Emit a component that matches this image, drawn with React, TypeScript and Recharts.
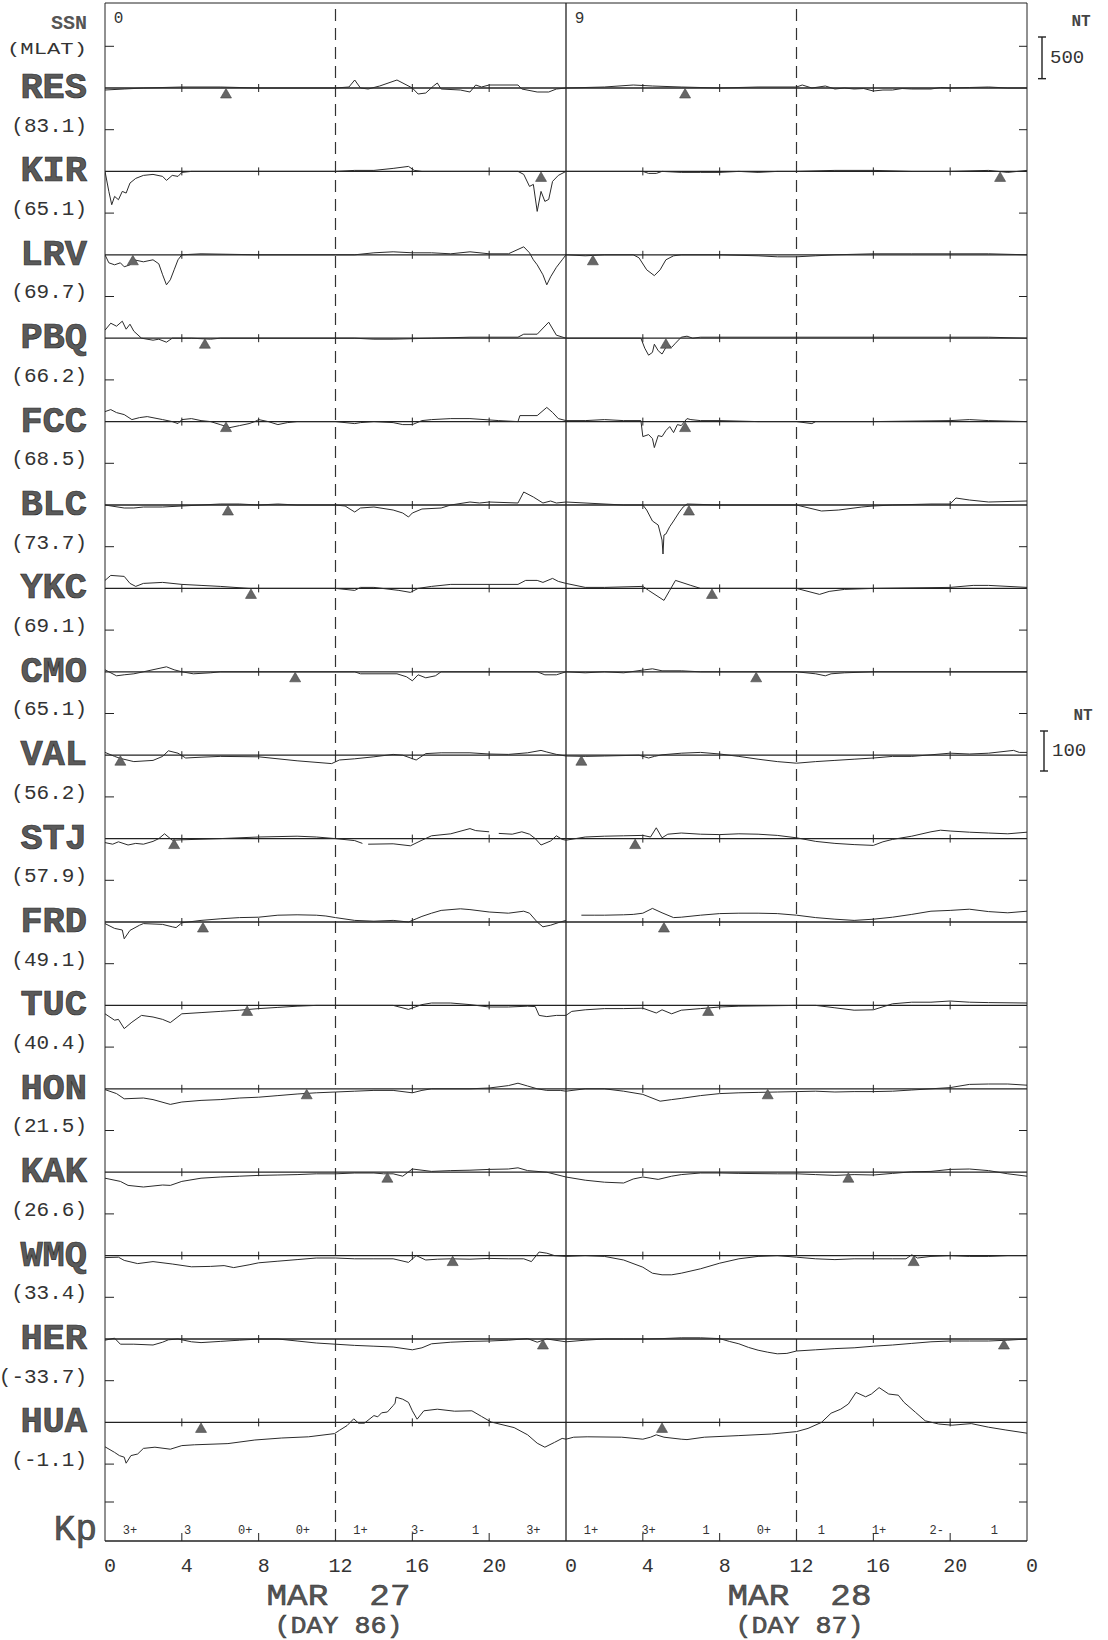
import React from "react";
import { ComposedChart, Line, XAxis, YAxis, ReferenceLine, ReferenceDot } from "recharts";

document.body.style.margin = "0";

// ── Data ─────────────────────────────────────────────────────────────────────

type Pt = [number, number | null]; // [hour UT since Mar 27 00h, deviation nT]

const STATIONS = ["RES", "KIR", "LRV", "PBQ", "FCC", "BLC", "YKC", "CMO", "VAL", "STJ", "FRD", "TUC", "HON", "KAK", "WMQ", "HER", "HUA"];
const MLAT = ["83.1", "65.1", "69.7", "66.2", "68.5", "73.7", "69.1", "65.1", "56.2", "57.9", "49.1", "40.4", "21.5", "26.6", "33.4", "-33.7", "-1.1"];
const HIGH_LAT_COUNT = 8; // first 8 stations drawn at the 500 nT scale, rest at 100 nT

const RES: Pt[] = [[0,-24],[1,-12],[2,0],[4,12],[6,12],[8,0],[12,0],[12.7,12],[13,96],[13.3,0],[13.7,-12],[14.3,24],[15.2,96],[16,0],[16.3,-72],[16.7,-60],[17.1,24],[17.3,60],[17.5,-12],[18.5,-24],[19,-48],[19.3,36],[19.6,12],[20,36],[21.5,36],[21.7,-12],[22.5,-48],[23.1,-48],[23.5,-12],[24,0],[26,12],[27.5,36],[28.5,24],[30,12],[32,0],[34,12],[36,12],[36.3,36],[36.8,0],[37.5,24],[38,-12],[38.5,0],[39,-12],[39.5,-6],[40,-36],[40.5,-24],[41,-24],[41.5,-6],[42,-12],[43,-12],[43.5,6],[44,0],[45,6],[46,12],[47,0],[48,0]];
const KIR: Pt[] = [[0,0],[0.2,-240],[0.35,-400],[0.5,-300],[0.7,-340],[0.9,-240],[1.1,-260],[1.3,-140],[1.6,-84],[2,-48],[2.5,-36],[3,-60],[3.2,-108],[3.5,-48],[3.8,-60],[4,-12],[4.5,0],[8,0],[12,0],[13,12],[14,12],[15,36],[15.8,60],[16.1,12],[16.5,0],[18,0],[21.5,0],[21.8,-36],[22.1,-180],[22.3,-156],[22.5,-480],[22.7,-240],[22.9,-360],[23.1,-336],[23.3,-120],[23.6,-48],[24,0],[28,0],[28.3,-24],[28.7,-24],[29,0],[30,-12],[31,-12],[32,-12],[33,0],[34,-12],[35,0],[36,0],[38,12],[40,12],[42,0],[44,0],[46,12],[47,-12],[48,12]];
const LRV: Pt[] = [[0,0],[0.2,-96],[0.5,-120],[0.8,-96],[1,-144],[1.3,-120],[1.5,-60],[2,-84],[2.5,-60],[2.8,-108],[3,-240],[3.2,-360],[3.4,-300],[3.6,-180],[3.8,-60],[4,0],[5,12],[8,0],[12,0],[13,0],[14,24],[15,36],[16,24],[17,24],[18,12],[19,36],[20,12],[21,12],[21.8,96],[22.1,24],[22.3,-60],[22.5,-120],[22.8,-240],[23,-360],[23.2,-264],[23.5,-150],[23.8,-60],[24,0],[25,-12],[26,0],[27.5,0],[27.8,-36],[28.2,-180],[28.6,-250],[28.9,-180],[29.2,-60],[29.6,-12],[30,0],[32,0],[34,-12],[35,-24],[36,-24],[37,-12],[38,0],[40,12],[42,12],[44,12],[46,12],[48,0]];
const PBQ: Pt[] = [[0,96],[0.3,180],[0.6,144],[0.9,204],[1.1,108],[1.3,168],[1.5,84],[1.9,0],[2.5,-24],[2.8,-12],[3.2,-48],[3.5,0],[4.5,0],[5.5,-12],[6,0],[13,0],[14,-12],[15,-12],[17,0],[19,12],[20,12],[21.5,12],[21.8,48],[22.5,48],[23.1,192],[23.5,36],[24,0],[27.9,0],[28.1,-120],[28.3,-204],[28.5,-170],[28.6,-72],[28.8,-150],[29,-190],[29.3,-72],[29.5,-110],[29.7,-60],[30,12],[30.3,24],[30.6,0],[31,12],[46,12],[48,0]];
const FCC: Pt[] = [[0,120],[0.3,144],[0.6,108],[1,84],[1.4,24],[1.8,48],[2.2,60],[3,24],[3.5,0],[3.8,-24],[4,24],[4.5,36],[5,12],[5.5,0],[6,-36],[6.5,-72],[7,-48],[7.5,-24],[7.8,0],[8,24],[8.5,0],[9,-36],[9.5,-12],[10,0],[12,0],[13,-24],[13.3,-12],[14,0],[15,-12],[15.5,-36],[16,-36],[16.5,12],[17,24],[18,36],[19,36],[20.5,12],[21.5,0],[21.6,72],[22.5,72],[23,170],[23.3,110],[23.6,36],[24,12],[25,12],[26,24],[27,12],[27.9,12],[28,-180],[28.3,-156],[28.5,-204],[28.6,-312],[28.8,-168],[29,-180],[29.2,-108],[29.4,-60],[29.6,-132],[29.8,-36],[30,-48],[30.3,36],[30.5,24],[31,12],[32,12],[34,0],[36,0],[36.8,-24],[37,0],[40,0],[44,12],[45,24],[46,12],[48,0]];
const BLC: Pt[] = [[0,0],[1,-36],[1.5,-36],[2,-24],[3,-24],[4,-12],[5,0],[6,12],[7,12],[8,0],[9,12],[10,0],[12,0],[12.5,-12],[13,-84],[13.3,-36],[14,-24],[15,-60],[15.5,-96],[15.8,-144],[16,-96],[16.5,-48],[17.5,-36],[18,0],[19,36],[19.5,24],[20,36],[21.5,24],[21.8,156],[22.3,96],[22.8,24],[23.2,48],[23.5,24],[24,36],[27,0],[28,0],[28.2,-60],[28.5,-192],[28.8,-240],[29,-420],[29.05,-588],[29.1,-360],[29.2,-348],[29.4,-260],[29.6,-192],[29.9,-84],[30.1,-24],[30.3,12],[32,0],[36,0],[37.3,-72],[38.2,-60],[39.4,-24],[40,-12],[41,0],[43,12],[44,12],[44.3,84],[45,60],[46,36],[48,48]];
const YKC: Pt[] = [[0,96],[0.3,156],[1,144],[1.3,60],[1.6,24],[2,60],[3,72],[4,48],[5,36],[6,24],[7.5,0],[12,0],[13,-24],[13.3,12],[14,12],[15.3,-24],[15.9,-48],[16.3,0],[17,24],[18,48],[20,48],[21.5,48],[21.9,96],[22.5,96],[22.8,72],[23.3,120],[23.6,84],[24,60],[25,12],[26,12],[28,24],[28.3,-24],[29.1,-144],[29.4,-24],[29.7,96],[30.5,36],[31,0],[36,0],[37.2,-72],[37.7,-36],[38.5,-12],[40,0],[44,12],[45.2,36],[46,36],[48,12]];
const CMO: Pt[] = [[0,24],[0.6,-48],[1,-36],[1.5,-24],[2,0],[3.2,60],[3.6,24],[4,0],[4.6,-24],[5.5,-12],[6,0],[13,0],[13.3,-24],[15.2,-24],[15.7,-60],[16,-108],[16.3,-36],[16.7,-72],[17.2,-48],[17.5,0],[22.5,0],[22.9,-36],[23.5,-36],[24,0],[25,-12],[26,0],[27,-12],[28.1,24],[28.5,36],[29,12],[30,12],[31,0],[36,0],[37,-24],[37.5,-48],[37.8,-24],[38.5,-12],[40,0],[48,0]];
const VAL: Pt[] = [[0,7],[0.5,-3],[0.8,-8],[1.5,-16],[2.5,-13],[3,-3],[3.3,11],[3.8,5],[4.2,-7],[5,-5],[6,-3],[8,-4],[10,-14],[11.8,-21],[12.2,-12],[13,-9],[14,-4],[15,2],[15.5,0],[16.2,-12],[16.7,4],[17.5,6],[19,6],[20,3],[21,2],[22,6],[22.7,12],[23,8],[23.5,2],[24,-2],[25,-3],[26,-2],[27.8,0],[28.3,-7],[28.6,-3],[29,1],[30,5],[31,7],[32,3],[33,-3],[34,-10],[35,-16],[36,-20],[37,-16],[38,-13],[39,-10],[40,-7],[41,-3],[42,-3],[43,1],[44,5],[45,3],[46,5],[47.3,12],[47.6,7],[48,7]];
const STJ: Pt[] = [[0,-10],[0.4,-14],[0.7,-8],[1.2,-16],[1.6,-12],[2,-14],[2.5,-7],[2.8,0],[3.1,12],[3.5,-4],[4,-3],[6,0],[8,4],[10,6],[11,4],[12,0],[13,-5],[13.4,-12],[13.55,null],[13.7,-14],[15,-13],[15.9,-18],[16.5,-4],[17,7],[18,12],[19,25],[19.3,20],[20,17],[20.1,null],[20.5,13],[21.2,11],[21.7,17],[22.1,11],[22.4,0],[22.7,-16],[23.2,-6],[23.5,7],[23.8,-2],[24,-4],[25,4],[26,6],[27,7],[28,8],[28.4,4],[28.7,27],[29,2],[29.3,11],[30,14],[31,11],[32,10],[33,12],[34,11],[35,8],[36,2],[37,-7],[38,-12],[39,-15],[40,-17],[40.5,-8],[41,-2],[42,6],[43,17],[43.5,21],[44,19],[45,16],[46,14],[47,12],[48,16]];
const FRD: Pt[] = [[0,-4],[0.5,-16],[0.9,-20],[1,-42],[1.3,-21],[1.8,-8],[2,-4],[3,-6],[3.5,-12],[3.7,-14],[4,-2],[5,4],[6,8],[7,11],[8,12],[9,17],[10,18],[11,17],[11.5,15],[12,11],[13,4],[14,2],[15,4],[15.8,0],[16.2,8],[16.5,14],[17,22],[17.5,29],[18.5,33],[19,31],[20,25],[21,22],[21.8,27],[22.1,22],[22.5,0],[22.8,-12],[23.2,-8],[23.7,0],[24,4],[24.05,null],[24.8,17],[25.5,17],[26,17],[27,18],[27.5,19],[28,22],[28.5,34],[29,23],[29.6,11],[30,12],[31,17],[32,21],[33,22],[34,22],[35,21],[36,17],[37,11],[38,7],[39,4],[40,7],[41,12],[42,19],[43,27],[44,29],[45,32],[46,26],[47,23],[48,27]];
const TUC: Pt[] = [[0,-21],[0.5,-37],[0.7,-35],[1,-58],[1.4,-42],[1.9,-25],[2.5,-29],[3,-35],[3.4,-43],[4,-21],[5,-18],[6,-15],[7,-12],[8,-8],[9,-5],[10,-2],[11,0],[15,0],[15.8,-10],[16.5,2],[17,6],[18,6],[19,2],[20,-4],[21,-4],[22,-2],[22.4,-3],[22.6,-25],[23,-28],[23.5,-25],[24,-25],[24.3,-15],[25,-11],[26,-8],[27,-8],[28,-7],[28.7,-19],[29,-11],[29.5,-21],[30,-12],[31,-8],[32,-4],[33,-2],[36,0],[37,0],[38,-6],[39,-12],[40,-11],[41,4],[42,8],[43,8],[44,11],[45,8],[46,7],[48,6]];
const HON: Pt[] = [[0,-2],[0.6,-12],[1,-25],[2,-23],[2.5,-27],[3.4,-39],[4,-33],[5,-29],[6,-27],[7,-23],[8,-21],[9,-17],[10,-13],[11,-10],[12,-8],[13,-6],[14,-4],[15,-4],[16,-10],[16.5,-4],[17,0],[19,0],[20,2],[21,8],[21.5,14],[22,7],[22.5,0],[23,-4],[23.7,-4],[24,-6],[25,0],[26,0],[27,-6],[28,-14],[28.9,-31],[29.5,-27],[30,-24],[31,-17],[32,-12],[33,-10],[34,-9],[35,-8],[36,-7],[37,-6],[38,-8],[39,-7],[40,-7],[41,-6],[42,-3],[43,0],[44,3],[45,11],[46,12],[47,12],[48,9]];
const KAK: Pt[] = [[0,-15],[0.8,-23],[1.2,-33],[2,-37],[3,-32],[3.4,-33],[4,-23],[5,-15],[6,-12],[7,-10],[8,-8],[9,-7],[10,-6],[11,-4],[12,-4],[13,-2],[14,-2],[14.5,-4],[15,-4],[15.5,-10],[16,8],[17,2],[18,4],[19,5],[20,7],[21,8],[21.5,11],[22,4],[23,0],[24,-12],[25,-20],[26,-25],[27,-27],[27.5,-17],[28,-12],[28.8,-18],[29.5,-10],[30,-6],[31,-2],[32,-2],[33,-3],[35,-4],[36,-4],[37,-6],[38,-8],[39,-6],[40,-7],[41,-3],[42,1],[43,2],[44,7],[45,8],[46,4],[47,-4],[48,-10]];
const WMQ: Pt[] = [[0,-5],[0.7,-4],[1,-12],[1.7,-20],[2.5,-15],[3.5,-21],[4.5,-28],[5.5,-27],[6.2,-25],[6.7,-30],[7.5,-23],[8,-18],[9,-14],[10,-10],[11,-6],[12,-6],[13,-8],[14,-8],[15,-8],[15.8,-17],[16.2,0],[16.7,-11],[17.3,-9],[18,-8],[19,-9],[20,-7],[21,-8],[21.8,-8],[22.2,-15],[22.6,9],[23,6],[23.4,0],[24,-2],[25,0],[26,-2],[27,-11],[28,-29],[28.5,-44],[29,-48],[29.5,-48],[30,-44],[31,-33],[32,-19],[33,-8],[34,-2],[35,0],[36,-4],[37,-8],[38,-10],[39,-8],[40,-8],[41,-8],[41.7,-8],[42,2],[42.3,-6],[43,-2],[44,0],[45,-2],[46,-2],[47,0],[48,0]];
const HER: Pt[] = [[0,-3],[0.5,2],[0.8,-13],[1.5,-13],[2.5,-15],[3,-8],[3.3,-2],[3.8,0],[4.5,-7],[5,-9],[6,-6],[7,-3],[8,0],[9,0],[10,-5],[11,-10],[12,-13],[13,-16],[14,-18],[15,-20],[16,-27],[16.5,-22],[17,-12],[18,-8],[19,-6],[20,-5],[21,-3],[22,1],[22.5,-8],[23,0],[24,-7],[25,-3],[26,0],[27,0],[28,0],[29,1],[30,3],[31,3],[32,1],[32.5,-6],[33,-12],[33.5,-21],[34,-28],[34.5,-33],[35,-37],[35.5,-36],[36,-30],[37,-27],[38,-24],[39,-22],[40,-18],[41,-15],[42,-11],[43,-7],[44,-5],[45,-5],[46,-5],[47,-3],[48,0]];
const HUA: Pt[] = [[0,-61],[0.5,-75],[0.75,-83],[1,-87],[1.1,-102],[1.35,-83],[1.7,-79],[2,-65],[2.6,-62],[3.4,-67],[4,-58],[4.65,-56],[6.4,-53],[7.8,-44],[9.2,-39],[10.6,-36],[11.95,-28],[12.2,-20],[12.6,-8],[12.95,9],[13.2,-2],[13.5,-2],[14,17],[14.2,14],[14.4,24],[14.7,26],[15,42],[15.1,48],[15.15,63],[15.5,58],[15.8,50],[16,29],[16.25,8],[16.6,29],[17.3,33],[18.2,28],[19.1,29],[19.6,15],[20.1,1],[21.3,-13],[22,-31],[22.5,-52],[22.9,-62],[23.4,-50],[23.8,-40],[24,-42],[24.4,-37],[25.1,-36],[26.9,-37],[28,-42],[28.4,-37],[28.7,-31],[29.1,-37],[30,-42],[30.3,-43],[31.2,-37],[33,-33],[34.7,-29],[36,-23],[36.6,-15],[37.3,0],[37.8,23],[38.3,33],[38.7,46],[39.1,75],[39.6,64],[39.9,71],[40.3,87],[40.8,71],[41.3,68],[41.6,50],[42.2,25],[42.7,4],[43.4,-4],[44.1,-7],[45.1,-3],[46,-12],[46.9,-19],[48,-27]];

const TRACES: Pt[][] = [RES, KIR, LRV, PBQ, FCC, BLC, YKC, CMO, VAL, STJ, FRD, TUC, HON, KAK, WMQ, HER, HUA];

// local midnight (UT hour) of each station, day 1 and day 2
const MIDNIGHT: number[][] = [[6.3,30.2],[22.7,46.6],[1.45,25.4],[5.2,29.2],[6.3,30.2],[6.4,30.4],[7.6,31.6],[9.9,33.9],[0.8,24.8],[3.6,27.6],[5.1,29.1],[7.4,31.4],[10.5,34.5],[14.7,38.7],[18.1,42.1],[22.8,46.8],[5.0,29.0]];

const KP = ["3+", "3", "0+", "0+", "1+", "3-", "1", "3+", "1+", "3+", "1", "0+", "1", "1+", "2-", "1"];
const SSN = ["0", "9"];
const DAYS = [{ date: "MAR  27", doy: "(DAY 86)" }, { date: "MAR  28", doy: "(DAY 87)" }];
const HOUR_TICKS = [0, 4, 8, 12, 16, 20, 24, 28, 32, 36, 40, 44, 48];
const INNER_TICKS = [4, 8, 16, 20, 28, 32, 40, 44];

// ── Layout ───────────────────────────────────────────────────────────────────

const W = 1108, H = 1640;
const TOP = 3, BOTTOM = 1541, LEFT = 105, RIGHT = 1027;
const ROW0 = 88, ROW = 83.4;
const HI_S = 12, LO_S = 2.5; // nT per pixel
const MONO = "'Liberation Mono', 'DejaVu Sans Mono', monospace";
const INK = "#222";

const baseY = (i: number) => ROW0 + ROW * i;
const scaleOf = (i: number) => (i < HIGH_LAT_COUNT ? HI_S : LO_S);
const BASES = STATIONS.map((_, i) => baseY(i));
const FRAME_TICKS = [...BASES.map((b) => b - ROW / 2), baseY(16) + ROW / 2, 1502];
const hourPx = (RIGHT - LEFT) / 48;

const Tri = (p: any) => (
  <polygon points={`${p.cx},${p.cy + 0.5} ${p.cx - 5.5},${p.cy + 10} ${p.cx + 5.5},${p.cy + 10}`} fill="#666" stroke="#444" strokeWidth={0.6} />
);
const VTick = (p: any) => <line x1={p.cx} x2={p.cx} y1={p.cy - 4} y2={p.cy + 4} stroke={INK} strokeWidth={1} />;

const HourTick = (p: any) => (
  <text x={p.x + 5} y={p.y} dy="0.71em" textAnchor="middle" fontSize={20} fontFamily={MONO} fill="#333">
    {p.payload.value % 24}
  </text>
);

function StationTick(props: any) {
  const { y, payload } = props;
  const i = BASES.findIndex((b) => Math.abs(b - payload.value) < 0.5);
  if (i < 0) return null;
  return (
    <g fontFamily={MONO}>
      <text x={87} y={y} textAnchor="end" dominantBaseline="central" fontSize={37} fontWeight="bold" fill="#5a5a5a" stroke="#2a2a2a" strokeWidth={0.7}>
        {STATIONS[i]}
      </text>
      <text x={87} y={y + 38} textAnchor="end" dominantBaseline="central" fontSize={21} fill="#333">
        ({MLAT[i]})
      </text>
    </g>
  );
}

function ScaleBar({ x, y, len, label, nt }: { x: number; y: number; len: number; label: string; nt: number }) {
  return (
    <g fontFamily={MONO}>
      <text x={nt} y={y - 11} textAnchor="middle" fontSize={16} fontWeight="bold" fill="#444">NT</text>
      <line x1={x} x2={x} y1={y} y2={y + len} stroke={INK} strokeWidth={1.4} />
      <line x1={x - 4} x2={x + 4} y1={y} y2={y} stroke={INK} strokeWidth={1.4} />
      <line x1={x - 4} x2={x + 4} y1={y + len} y2={y + len} stroke={INK} strokeWidth={1.4} />
      <text x={x + 8} y={y + len / 2} dominantBaseline="central" fontSize={19} fill="#333">{label}</text>
    </g>
  );
}

export default function App() {
  return (
    <div style={{ position: "relative", width: W, height: H, background: "#fff" }}>
      <ComposedChart width={W} height={H} margin={{ top: TOP, left: LEFT - 1, right: W - RIGHT, bottom: H - BOTTOM - 30 }}>
        <XAxis
          dataKey="t"
          type="number"
          domain={[0, 48]}
          ticks={HOUR_TICKS}
          interval={0}
          allowDataOverflow
          height={30}
          tickLine={false}
          tickSize={6}
          tickMargin={11}
          axisLine={{ stroke: INK, strokeWidth: 1.3 }}
          tick={<HourTick />}
        />
        <XAxis
          xAxisId="top"
          orientation="top"
          mirror
          height={1}
          type="number"
          domain={[0, 48]}
          allowDataOverflow
          ticks={INNER_TICKS}
          interval={0}
          tickSize={10}
          tickFormatter={() => ""}
          stroke={INK}
        />
        <YAxis
          yAxisId="frame"
          orientation="left"
          mirror
          width={1}
          type="number"
          domain={[TOP, BOTTOM]}
          allowDataOverflow
          reversed
          ticks={FRAME_TICKS}
          interval={0}
          tickSize={9}
          tickFormatter={() => ""}
          stroke={INK}
        />
        <YAxis
          yAxisId="frameR"
          orientation="right"
          mirror
          width={1}
          type="number"
          domain={[TOP, BOTTOM]}
          allowDataOverflow
          reversed
          ticks={FRAME_TICKS}
          interval={0}
          tickSize={8}
          tickFormatter={() => ""}
          stroke={INK}
        />
        <YAxis
          yAxisId="names"
          orientation="left"
          width={1}
          type="number"
          domain={[TOP, BOTTOM]}
          allowDataOverflow
          reversed
          ticks={BASES}
          interval={0}
          axisLine={false}
          tickLine={false}
          tick={<StationTick />}
        />
        {STATIONS.map((name, i) => {
          const s = scaleOf(i);
          const b = BASES[i];
          return (
            <YAxis
              key={`ax-${name}`}
              yAxisId={name}
              hide
              type="number"
              domain={[-(BOTTOM - b) * s, (b - TOP) * s]}
              allowDataOverflow
            />
          );
        })}

        <ReferenceLine yAxisId="RES" x={12} stroke="#333" strokeWidth={1.2} strokeDasharray="12 7" />
        <ReferenceLine yAxisId="RES" x={36} stroke="#333" strokeWidth={1.2} strokeDasharray="12 7" />
        <ReferenceLine yAxisId="RES" x={24} stroke={INK} strokeWidth={1.3} />
        {INNER_TICKS.map((h) => (
          <ReferenceLine key={`kt-${h}`} yAxisId="frame" segment={[{ x: h, y: BOTTOM - 8 }, { x: h, y: BOTTOM }]} stroke={INK} />
        ))}
        {KP.map((k, i) => (
          <ReferenceDot
            key={`kp-${i}`}
            yAxisId="frame"
            x={3 * i + 1.3}
            y={1531}
            shape={(p: any) => (
              <text x={p.cx} y={p.cy} textAnchor="middle" dominantBaseline="central" fontSize={12} fontFamily={MONO} fill="#333">
                {k}
              </text>
            )}
          />
        ))}

        {STATIONS.map((name) => (
          <ReferenceLine key={`base-${name}`} yAxisId={name} y={0} stroke={INK} strokeWidth={1.3} />
        ))}
        {STATIONS.map((name) =>
          INNER_TICKS.map((h) => <ReferenceDot key={`bt-${name}-${h}`} yAxisId={name} x={h} y={0} shape={VTick} />)
        )}
        {STATIONS.map((name, i) => (
          <Line
            key={`tr-${name}`}
            yAxisId={name}
            data={TRACES[i].map(([t, v]) => ({ t, v }))}
            dataKey="v"
            type="linear"
            stroke="#2b2b2b"
            strokeWidth={1}
            dot={false}
            activeDot={false}
            connectNulls={false}
            isAnimationActive={false}
          />
        ))}
        {STATIONS.map((name, i) =>
          MIDNIGHT[i].map((t, j) => <ReferenceDot key={`mn-${name}-${j}`} yAxisId={name} x={t} y={0} shape={Tri} />)
        )}
      </ComposedChart>

      <svg width={W} height={H} style={{ position: "absolute", left: 0, top: 0, pointerEvents: "none" }}>
        <g fontFamily={MONO} fill="#333">
          <text x={87} y={23} textAnchor="end" dominantBaseline="central" fontSize={20} fontWeight="bold" fill="#555">SSN</text>
          <text x={87} y={49} textAnchor="end" dominantBaseline="central" fontSize={17} textLength={80} lengthAdjust="spacingAndGlyphs">(MLAT)</text>
          <text x={97} y={1530} textAnchor="end" dominantBaseline="central" fontSize={36} fill="#555" stroke="#333" strokeWidth={0.6}>Kp</text>
          {SSN.map((s, d) => (
            <text key={s + d} x={LEFT + (24 * d + 0.7) * hourPx} y={19} textAnchor="middle" dominantBaseline="central" fontSize={16}>{s}</text>
          ))}
          {DAYS.map((d, k) => (
            <g key={d.date} fill="#555" stroke="#333" strokeWidth={0.5}>
              <text x={LEFT + (24 * k + 12) * hourPx + 3} y={1597} textAnchor="middle" dominantBaseline="central" fontSize={30} textLength={144} lengthAdjust="spacingAndGlyphs" style={{ whiteSpace: "pre" }}>{d.date}</text>
              <text x={LEFT + (24 * k + 12) * hourPx + 3} y={1626} textAnchor="middle" dominantBaseline="central" fontSize={24} textLength={128} lengthAdjust="spacingAndGlyphs">{d.doy}</text>
            </g>
          ))}
        </g>
        <ScaleBar x={1042} y={37} len={500 / HI_S} label="500" nt={1081} />
        <ScaleBar x={1044} y={731} len={100 / LO_S} label="100" nt={1083} />
      </svg>
    </div>
  );
}
